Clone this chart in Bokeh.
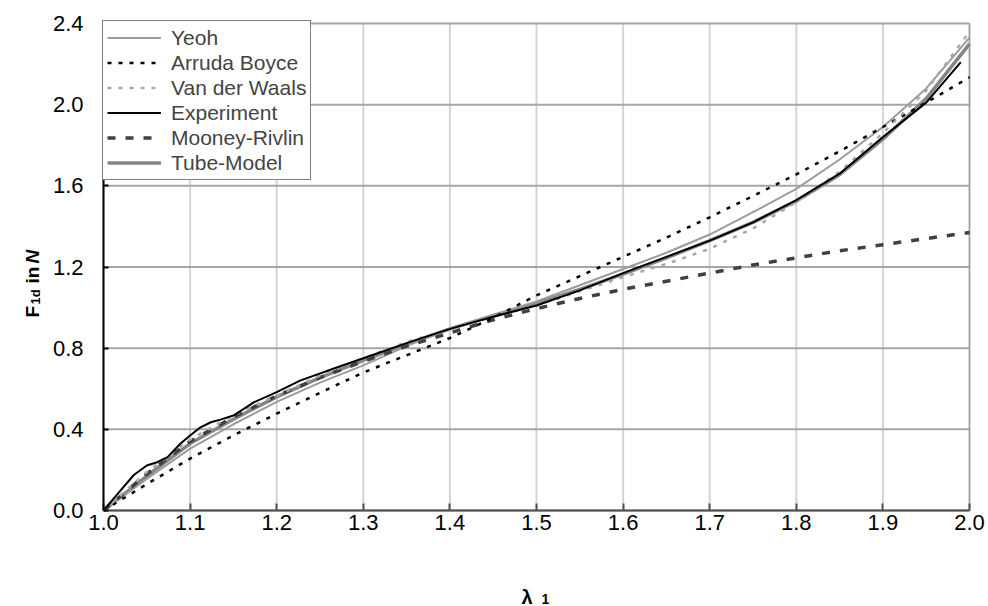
import math
from bokeh.plotting import figure
from bokeh.models import (Range1d, FixedTicker, PrintfTickFormatter, Legend,
                          LegendItem, Label, LinearAxis)
from bokeh.embed import file_html
from bokeh.resources import INLINE

# ---------------- data ----------------
x_exp = [1.0, 1.02, 1.035, 1.05, 1.062, 1.074, 1.089, 1.10, 1.112, 1.124, 1.135,
         1.15, 1.174, 1.20, 1.227, 1.266, 1.30, 1.35, 1.40, 1.45, 1.50, 1.55,
         1.60, 1.65, 1.70, 1.75, 1.80, 1.85, 1.90, 1.95, 1.99]
y_exp = [0.0, 0.10, 0.175, 0.222, 0.238, 0.263, 0.33, 0.37, 0.41, 0.435, 0.448,
         0.468, 0.534, 0.583, 0.64, 0.70, 0.75, 0.825, 0.895, 0.955, 1.01, 1.085,
         1.17, 1.25, 1.33, 1.42, 1.53, 1.66, 1.84, 2.01, 2.21]

x_mod = [1.0, 1.05, 1.1, 1.15, 1.2, 1.25, 1.3, 1.35, 1.4, 1.45, 1.5, 1.55,
         1.6, 1.65, 1.7, 1.75, 1.8, 1.85, 1.9, 1.95, 2.0]
y_yeoh = [0.0, 0.155, 0.305, 0.425, 0.535, 0.63, 0.715, 0.81, 0.895, 0.965, 1.03,
          1.11, 1.19, 1.27, 1.36, 1.47, 1.585, 1.73, 1.89, 2.08, 2.33]
y_arruda = [0.0, 0.13, 0.256, 0.37, 0.477, 0.58, 0.68, 0.765, 0.85, 0.95, 1.06,
            1.155, 1.25, 1.345, 1.445, 1.55, 1.656, 1.77, 1.89, 2.01, 2.135]
y_vdw = [0.0, 0.19, 0.35, 0.47, 0.565, 0.665, 0.75, 0.83, 0.895, 0.955, 1.01,
         1.08, 1.15, 1.215, 1.29, 1.39, 1.52, 1.67, 1.86, 2.07, 2.36]
y_mooney = [0.0, 0.18, 0.34, 0.46, 0.565, 0.655, 0.735, 0.81, 0.875, 0.94, 0.995,
            1.045, 1.09, 1.13, 1.17, 1.21, 1.245, 1.28, 1.31, 1.34, 1.37]
y_tube = [0.0, 0.17, 0.33, 0.45, 0.56, 0.655, 0.74, 0.82, 0.895, 0.96, 1.02,
          1.09, 1.165, 1.245, 1.33, 1.42, 1.525, 1.655, 1.83, 2.03, 2.30]

x_ticks = [1.0, 1.1, 1.2, 1.3, 1.4, 1.5, 1.6, 1.7, 1.8, 1.9, 2.0]
y_ticks = [0.0, 0.4, 0.8, 1.2, 1.6, 2.0, 2.4]

FONT = "Liberation Sans"
W, H = 988, 606
# plot area (pixels) in the reference
L, R, T, B = 103, 969, 23, 510
X0, X1 = x_ticks[0], x_ticks[-1]
Y0, Y1 = y_ticks[0], y_ticks[-1]
sx = (R - L) / (X1 - X0)
sy = (B - T) / (Y1 - Y0)

# frame covers the whole canvas; the plot area is drawn through fixed axes
p = figure(width=W, height=H, output_backend="svg", toolbar_location=None,
           x_range=Range1d(X0 - L / sx, X1 + (W - R) / sx),
           y_range=Range1d(Y0 - (H - B) / sy, Y1 + T / sy),
           x_axis_type=None, y_axis_type=None,
           min_border=0)
p.background_fill_color = "white"
p.border_fill_color = "white"
p.outline_line_color = None


def dx(px):
    return X0 + (px - L) / sx


def dy(py):
    return Y0 + (B - py) / sy


# grid lines
nx, ny = len(x_ticks), len(y_ticks)
p.segment(x0=x_ticks, y0=[Y0] * nx, x1=x_ticks, y1=[Y1] * nx,
          line_color="#d4d4d4", line_width=2, level="underlay")
p.segment(x0=[X0] * ny, y0=y_ticks, x1=[X1] * ny, y1=y_ticks,
          line_color="#a6a6a6", line_width=2, level="underlay")
p.segment(x0=[X1], y0=[Y0], x1=[X1], y1=[Y1],
          line_color="#a0a0a0", line_width=1.5, level="underlay")

yax = LinearAxis(fixed_location=X0, bounds=(Y0, Y1),
                 ticker=FixedTicker(ticks=y_ticks),
                 formatter=PrintfTickFormatter(format="%.1f"))
xax = LinearAxis(fixed_location=Y0, bounds=(X0, X1),
                 ticker=FixedTicker(ticks=x_ticks),
                 formatter=PrintfTickFormatter(format="%.1f"))
for ax in (xax, yax):
    ax.major_label_text_font = FONT
    ax.major_label_text_font_size = "22px"
    ax.major_label_text_color = "black"
    ax.minor_tick_line_color = None
    ax.major_tick_out = 0
    ax.axis_line_width = 2
    ax.major_tick_line_width = 2
yax.axis_line_color = "black"
yax.major_tick_line_color = "black"
yax.major_tick_in = 5
yax.major_label_standoff = 20
xax.axis_line_color = "#505050"
xax.major_tick_line_color = "#505050"
xax.major_tick_in = 7
xax.major_label_standoff = 4
p.add_layout(yax, "left")
p.add_layout(xax, "below")

r_tube = p.line(x_mod, y_tube, line_color="#858585", line_width=3.5)
r_yeoh = p.line(x_mod, y_yeoh, line_color="#9c9c9c", line_width=2)
r_mooney = p.line(x_mod, y_mooney, line_color="#404040", line_width=3.5,
                  line_dash="8 10")
r_arruda = p.line(x_mod, y_arruda, line_color="black", line_width=2.5,
                  line_dash="4 7")
r_vdw = p.line(x_mod, y_vdw, line_color="#a8a8a8", line_width=2.5,
               line_dash="4 7")
r_exp = p.line(x_exp, y_exp, line_color="black", line_width=2)

LEG_H = 6 * 25 + 8
legend = Legend(items=[
    LegendItem(label="Yeoh", renderers=[r_yeoh]),
    LegendItem(label="Arruda Boyce", renderers=[r_arruda]),
    LegendItem(label="Van der Waals", renderers=[r_vdw]),
    LegendItem(label="Experiment", renderers=[r_exp]),
    LegendItem(label="Mooney-Rivlin", renderers=[r_mooney]),
    LegendItem(label="Tube-Model", renderers=[r_tube]),
], location=(L - 1, H - 22 - LEG_H), margin=0, padding=4, spacing=0,
    glyph_width=54, glyph_height=25, label_height=25, label_standoff=10,
    label_text_font=FONT, label_text_font_size="21px",
    border_line_color="black", border_line_width=1.5,
    background_fill_color="white", background_fill_alpha=1.0)
p.add_layout(legend)


def lab(px, py, text, size, style="bold", angle=0.0):
    p.add_layout(Label(x=dx(px), y=dy(py), text=text, angle=angle,
                       text_font=FONT, text_font_size=size,
                       text_font_style=style, text_color="black",
                       text_align="left", text_baseline="alphabetic"))


a = math.pi / 2
lab(32, 317, "F", "19px", angle=a)
lab(35, 304, "1d", "13px", angle=a)
lab(32, 283, "in", "19px", angle=a)
lab(32, 263, "N", "19px", style="bold italic", angle=a)

lab(521, 596, "λ", "20px")
lab(541, 598, "1", "14px")

open("out.html", "w").write(file_html(p, INLINE))
